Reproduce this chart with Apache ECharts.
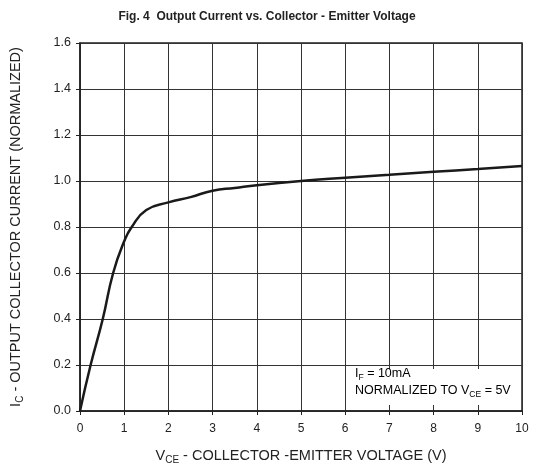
<!DOCTYPE html>
<html><head><meta charset="utf-8">
<script src="https://cdn.jsdelivr.net/npm/echarts@6/dist/echarts.min.js"></script>
<style>html,body{margin:0;padding:0;background:#fff}#c{width:534px;height:467px}</style>
</head><body><div id="c"></div>
<script>
const vce = [0, 0.24, 0.515, 0.75, 1.0, 1.17, 1.5, 2.0, 2.5, 3.0, 3.5, 4.0, 5.0, 6.0, 7.0, 8.0, 9.0, 10.0];
const ic  = [0, 0.2, 0.4, 0.6, 0.738, 0.8, 0.874, 0.907, 0.93, 0.958, 0.97, 0.982, 1.0, 1.014, 1.027, 1.04, 1.052, 1.065];
const xTicks = [0,1,2,3,4,5,6,7,8,9,10];
const yTicks = [0,0.2,0.4,0.6,0.8,1.0,1.2,1.4,1.6];

const chart = echarts.init(document.getElementById('c'));
const font = '"Liberation Sans", Arial, sans-serif';
chart.setOption({
  backgroundColor: '#fff',
  animation: false,
  title: {
    text: 'Fig. 4  Output Current vs. Collector - Emitter Voltage',
    left: 'center', top: 6,
    textStyle: {fontFamily: font, fontSize: 12, fontWeight: 'bold', color: '#222'}
  },
  grid: {left: 80, right: 12, top: 43, bottom: 56, show: true, borderColor: '#222', borderWidth: 1.5,
    containLabel: false, outerBoundsMode: 'none'},
  xAxis: {
    type: 'value', min: 0, max: 10, interval: 1,
    name: '{n|V}{s|CE}{n| - COLLECTOR -EMITTER VOLTAGE (V)}',
    nameLocation: 'middle', nameGap: 35,
    nameTextStyle: {rich: {
      n: {fontFamily: font, fontSize: 14.5, color: '#222'},
      s: {fontFamily: font, fontSize: 10, color: '#222', verticalAlign: 'bottom', padding: [9,0,0,0]}
    }},
    axisLine: {lineStyle: {color: '#222', width: 1.5}},
    axisTick: {show: true, length: 4, lineStyle: {color: '#222'}},
    axisLabel: {fontFamily: font, fontSize: 12, color: '#222', margin: 12,
      formatter: v => String(xTicks[Math.round(v)])},
    splitLine: {show: true, lineStyle: {color: '#333', width: 1}}
  },
  yAxis: {
    type: 'value', min: 0, max: 1.6, interval: 0.2,
    name: '{n|I}{s|C}{n| - OUTPUT COLLECTOR CURRENT (NORMALIZED)}',
    nameLocation: 'middle', nameGap: 55,
    nameTextStyle: {rich: {
      n: {fontFamily: font, fontSize: 14.5, color: '#222'},
      s: {fontFamily: font, fontSize: 10, color: '#222', verticalAlign: 'bottom', padding: [9,0,0,0]}
    }},
    axisLine: {lineStyle: {color: '#222', width: 1.5}},
    axisTick: {show: true, length: 4, lineStyle: {color: '#222'}},
    axisLabel: {fontFamily: font, fontSize: 12.5, color: '#222', margin: 9,
      formatter: v => v.toFixed(1)},
    splitLine: {show: true, lineStyle: {color: '#333', width: 1}}
  },
  series: [{
    type: 'line', data: vce.map((x, i) => [x, ic[i]]),
    smooth: 0.5, showSymbol: false,
    lineStyle: {color: '#1a1a1a', width: 2.5}, z: 3
  }],
  graphic: [{
    type: 'rect', shape: {x: 347, y: 369, width: 174, height: 36},
    style: {fill: '#fff', stroke: null}, z: 10
  }, {
    type: 'text', left: 355, top: 367, z: 11,
    style: {
      text: '{n|I}{s|F}{n| = 10mA}\n{n|NORMALIZED TO V}{s|CE}{n| = 5V}',
      rich: {
        n: {fontFamily: font, fontSize: 12.5, color: '#222', lineHeight: 17},
        s: {fontFamily: font, fontSize: 8.5, color: '#222', verticalAlign: 'bottom', lineHeight: 17, padding: [6,0,0,0]}
      }
    }
  }]
});
</script></body></html>
